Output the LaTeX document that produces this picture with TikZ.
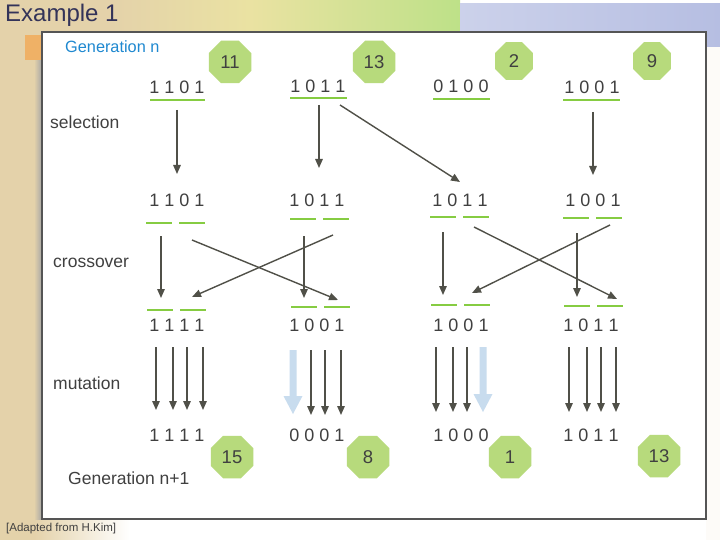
\documentclass[tikz,border=0pt]{standalone}
\usepackage{fontspec}
\setmainfont{Liberation Sans}
\usetikzlibrary{shapes.geometric,arrows.meta,calc}
\definecolor{bgbeige}{HTML}{E4D2AA}
\definecolor{bandyel}{HTML}{EAE2A2}
\definecolor{bandlav}{HTML}{B6BEE2}
\definecolor{txtc}{HTML}{404040}
\definecolor{arrc}{HTML}{505048}
\definecolor{gline}{HTML}{86CC42}
\definecolor{octc}{HTML}{B7DA7C}
\definecolor{blu}{HTML}{C8DCEE}
\definecolor{titleblue}{HTML}{1E88D0}
\definecolor{panelb}{HTML}{555555}
\tikzset{
  bits/.style={text=txtc, font=\fontsize{18}{20}\selectfont, inner sep=0pt},
  lbl/.style={text=txtc, font=\fontsize{17.5}{20}\selectfont, inner sep=0pt, anchor=west},
  oct/.style={regular polygon, regular polygon sides=8, fill=octc, minimum size=46pt, inner sep=0pt, text=txtc, font=\fontsize{18.5}{20}\selectfont},
  octs/.style={oct, minimum size=41pt},
  uline/.style={draw=gline, line width=2.5pt},
  arr/.style={draw=arrc, line width=1.4pt, -{Triangle[length=9pt,width=7.5pt]}},
  fatarr/.style={fill=blu, draw=none}
}
\newcommand{\fatarrow}[3]{% x, ytop, ybottom
  \fill[fatarr] (#1-3.5,#2) -- (#1+3.5,#2) -- (#1+3.5,#3-18) -- (#1+9.5,#3-18) -- (#1,#3) -- (#1-9.5,#3-18) -- (#1-3.5,#3-18) -- cycle;}
\begin{document}
\begin{tikzpicture}[x=1pt,y=-1pt]
\useasboundingbox (0,0) rectangle (720,540);
% background
\fill[white] (0,0) rectangle (720,540);
\fill[bgbeige] (0,0) rectangle (42,540);
\fill[bgbeige] (0,0) rectangle (110,32);
\shade[left color=bgbeige, right color=bandyel] (110,0) rectangle (250,32);
\shade[left color=bandyel, right color=bandyel!70!green!60!bgbeige] (250,0) rectangle (460,32);
\fill[white!92!bgbeige] (706,32) rectangle (720,540);
\shade[left color=bandlav!70!white, right color=bandlav] (460,4) rectangle (720,47);
\shade[left color=bgbeige, right color=white] (34,519) rectangle (130,540);
\shade[left color=bgbeige, right color=gray!70] (34,60) rectangle (42,519);
\fill[orange!40!bgbeige] (25,35) rectangle (42,60);
% panel
\draw[draw=panelb, fill=white, line width=1.2pt] (42,32) rectangle (706,519);
% texts
\node[anchor=west, text=black!75!blue!60!gray, font=\fontsize{24}{26}\selectfont, inner sep=0pt] (ex) at (5,15) {Example 1};
\node[lbl, text=titleblue, font=\fontsize{16.3}{20}\selectfont] (gn) at (65,47) {Generation n};
\node[lbl] (sel) at (50,122) {selection};
\node[lbl] (cro) at (53,263) {crossover};
\node[lbl] (mut) at (53,383) {mutation};
\node[lbl] (gn1) at (68,478) {Generation n+1};
\node[anchor=west, text=txtc, font=\fontsize{11.5}{13}\selectfont, inner sep=0pt] (src) at (6,529) {[Adapted from H.Kim]};
% fitness octagons
\node[oct] (f11) at (230,62) {11};
\node[oct] (f13) at (374,62) {13};
\node[octs] (f2) at (514,61) {2};
\node[octs] (f9) at (652,61) {9};
\node[oct] (f15) at (232,457) {15};
\node[oct] (f8) at (368,457) {8};
\node[oct] (f1) at (510,457) {1};
\node[oct] (f13b) at (659,456) {13};
% bit strings
\node[bits] (a1) at (177,87) {1 1 0 1};
\node[bits] (a2) at (318,86) {1 0 1 1};
\node[bits] (a3) at (461,86) {0 1 0 0};
\node[bits] (a4) at (592,87) {1 0 0 1};
\node[bits] (b1) at (177,200) {1 1 0 1};
\node[bits] (b2) at (317,200) {1 0 1 1};
\node[bits] (b3) at (460,200) {1 0 1 1};
\node[bits] (b4) at (593,200) {1 0 0 1};
\node[bits] (c1) at (177,325) {1 1 1 1};
\node[bits] (c2) at (317,325) {1 0 0 1};
\node[bits] (c3) at (461,325) {1 0 0 1};
\node[bits] (c4) at (591,325) {1 0 1 1};
\node[bits] (d1) at (177,435) {1 1 1 1};
\node[bits] (d2) at (317,435) {0 0 0 1};
\node[bits] (d3) at (461,435) {1 0 0 0};
\node[bits] (d4) at (591,435) {1 0 1 1};
% underlines row 1
\draw[uline] (150,100) -- (205,100);
\draw[uline] (290,98) -- (347,98);
\draw[uline] (433,99) -- (490,99);
\draw[uline] (563,100) -- (620,100);
% underlines row 2
\draw[uline] (146,223) -- (172,223); \draw[uline] (179,223) -- (205,223);
\draw[uline] (290,219) -- (316,219); \draw[uline] (323,219) -- (349,219);
\draw[uline] (430,217) -- (456,217); \draw[uline] (463,217) -- (489,217);
\draw[uline] (563,218) -- (589,218); \draw[uline] (596,218) -- (622,218);
% underlines row 3
\draw[uline] (147,310) -- (173,310); \draw[uline] (180,310) -- (206,310);
\draw[uline] (291,307) -- (317,307); \draw[uline] (324,307) -- (350,307);
\draw[uline] (431,305) -- (457,305); \draw[uline] (464,305) -- (490,305);
\draw[uline] (564,306) -- (590,306); \draw[uline] (597,306) -- (623,306);
% selection
\draw[arr] ($(a1)+(0,23)$) -- ($(b1)+(0,-26)$);
\draw[arr] ($(a2)+(1,19)$) -- ($(b2)+(2,-32)$);
\draw[arr] ($(a2)+(22,19)$) -- ($(b3)+(0,-18)$);
\draw[arr] ($(a4)+(1,25)$) -- ($(b4)+(0,-25)$);
% crossover
\draw[arr] ($(b1)+(-16,36)$) -- ($(c1)+(-16,-27)$);
\draw[arr] ($(b1)+(15,40)$) -- ($(c2)+(21,-25)$);
\draw[arr] ($(b2)+(16,35)$) -- ($(c1)+(15,-28)$);
\draw[arr] ($(b2)+(-13,36)$) -- ($(c2)+(-13,-27)$);
\draw[arr] ($(b3)+(-17,32)$) -- ($(c3)+(-18,-30)$);
\draw[arr] ($(b3)+(14,27)$) -- ($(c4)+(26,-26)$);
\draw[arr] ($(b4)+(17,25)$) -- ($(c3)+(11,-32)$);
\draw[arr] ($(b4)+(-16,33)$) -- ($(c4)+(-14,-28)$);
% mutation
\foreach \x in {156,173,187,203} \draw[arr] (\x,347) -- (\x,410);
\fatarrow{293}{350}{414}
\foreach \x in {311,325,341} \draw[arr] (\x,350) -- (\x,415);
\foreach \x in {436,453,467} \draw[arr] (\x,347) -- (\x,412);
\fatarrow{483}{347}{412}
\foreach \x in {569,587,601,616} \draw[arr] (\x,347) -- (\x,412);
\end{tikzpicture}
\end{document}
